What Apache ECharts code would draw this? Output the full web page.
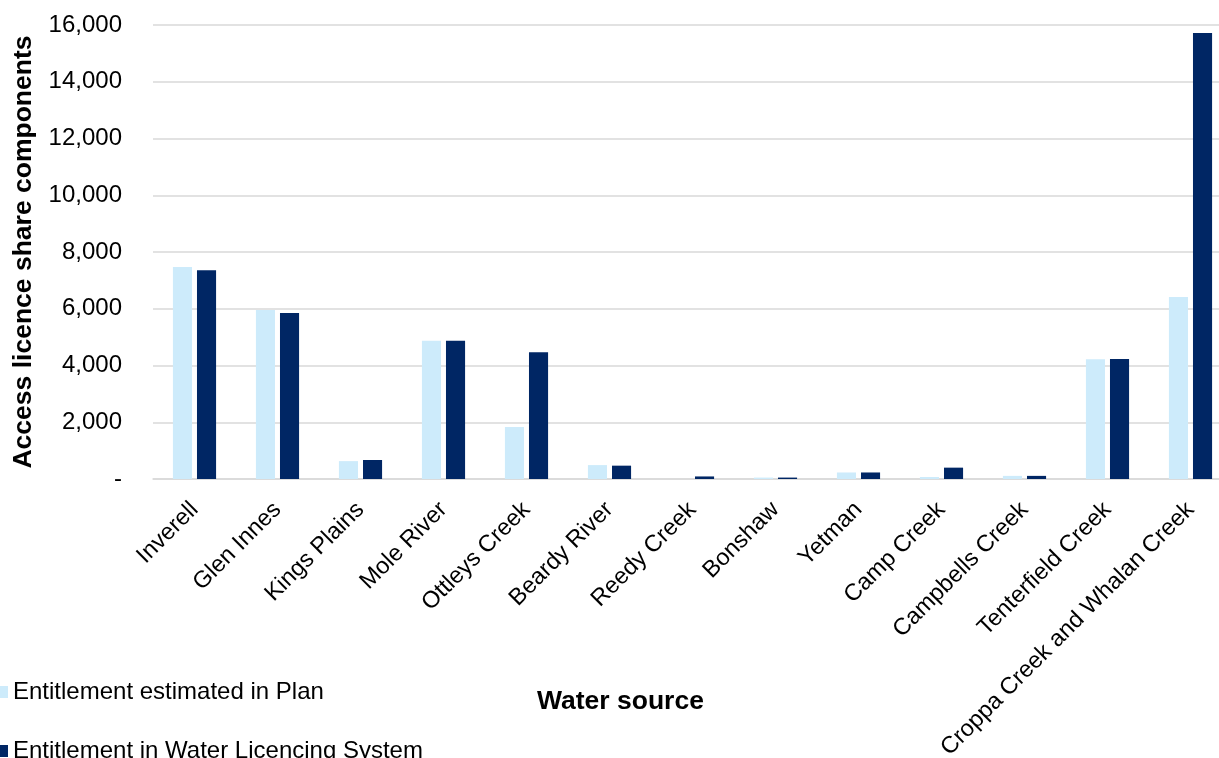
<!DOCTYPE html>
<html>
<head>
<meta charset="utf-8">
<script src="https://cdn.jsdelivr.net/npm/echarts@6/dist/echarts.min.js"></script>
<style>
  html, body { margin: 0; padding: 0; background: #fff; }
  #chart { width: 1219px; height: 758px; }
</style>
</head>
<body>
<div id="chart"></div>
<script>
const categories = ['Inverell', 'Glen Innes', 'Kings Plains', 'Mole River', 'Ottleys Creek', 'Beardy River',
  'Reedy Creek', 'Bonshaw', 'Yetman', 'Camp Creek', 'Campbells Creek', 'Tenterfield Creek',
  'Croppa Creek and Whalan Creek']
const planValues = [7470, 5960, 630, 4870, 1830, 490, 0, 50, 230, 70, 110, 4220, 6410]
const systemValues = [7360, 5850, 670, 4870, 4470, 470, 90, 50, 230, 400, 110, 4230, 15720]
const seriesNames = ['Entitlement estimated in Plan', 'Entitlement in Water Licencing System']

const font = 'Liberation Sans, Arial, sans-serif'
const chart = echarts.init(document.getElementById('chart'))

const legendBase = {
  left: 0,
  padding: 0,
  itemWidth: 8,
  itemHeight: 12,
  icon: 'rect',
  textStyle: { fontFamily: font, fontSize: 24, color: '#000' },
}

chart.setOption({
  animation: false,
  textStyle: { fontFamily: font },
  title: {
    text: 'Water source',
    left: 532,
    top: 683,
    textStyle: { fontFamily: font, fontSize: 26.5, fontWeight: 'bold', color: '#000' },
  },
  legend: [
    { ...legendBase, top: 680, data: [seriesNames[0]] },
    { ...legendBase, top: 739, data: [seriesNames[1]] },
  ],
  grid: { left: 153, right: -13, top: 25, bottom: 279, outerBoundsMode: 'none' },
  xAxis: {
    type: 'category',
    data: categories,
    axisLine: { lineStyle: { color: '#d9d9d9', width: 1.5 } },
    axisTick: { show: false },
    axisLabel: { rotate: 45, fontSize: 23.5, color: '#000', margin: 27, interval: 0 },
  },
  yAxis: {
    type: 'value',
    min: 0,
    max: 16000,
    interval: 2000,
    name: 'Access licence share components',
    nameLocation: 'middle',
    nameGap: 116,
    nameTextStyle: { fontFamily: font, fontSize: 26.5, fontWeight: 'bold', color: '#000' },
    axisLine: { show: false },
    axisTick: { show: false },
    splitLine: { lineStyle: { color: '#d9d9d9', width: 1.5 } },
    axisLabel: {
      fontSize: 24,
      color: '#000',
      margin: 31,
      formatter: v => (v === 0 ? '-' : v.toLocaleString('en-US')),
    },
  },
  series: [
    {
      name: seriesNames[0],
      type: 'bar',
      data: planValues,
      barGap: '26%',
      barCategoryGap: '48%',
      itemStyle: { color: '#cdebfb' },
    },
    {
      name: seriesNames[1],
      type: 'bar',
      data: systemValues,
      barGap: '26%',
      barCategoryGap: '48%',
      itemStyle: { color: '#002664' },
    },
  ],
})
</script>
</body>
</html>
